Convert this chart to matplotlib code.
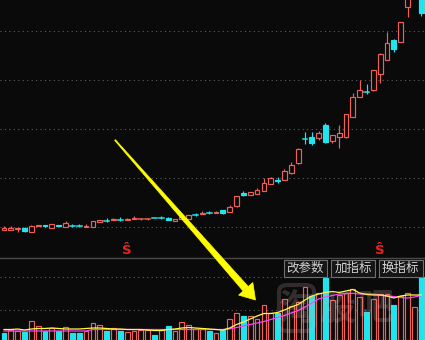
import matplotlib
matplotlib.use('Agg')
import matplotlib.pyplot as plt
from matplotlib.patches import Rectangle, Polygon, FancyBboxPatch
from matplotlib.lines import Line2D
import numpy as np

# ---------------- data ----------------
opens = [7.05, 7.05, 7.10, 7.20, 6.80, 7.37, 7.50, 7.20, 7.53, 7.30,
         7.50, 7.50, 7.35, 7.30, 7.85, 8.00, 8.00, 8.10, 8.00, 8.10,
         8.10, 8.10, 8.25, 8.30, 8.20, 7.95, 8.10, 8.10, 8.60, 8.60,
         8.80, 8.70, 9.00, 8.83, 9.40, 10.73, 10.50, 10.65, 10.93, 11.65,
         12.05, 12.00, 12.67, 13.70, 16.13, 16.33, 16.20, 17.50, 15.93, 16.33,
         16.33, 18.33, 20.27, 20.85, 21.00, 22.60, 24.00, 26.05, 25.83, 29.27,
         30.80, 31.00]
highs = [7.40, 7.40, 7.25, 7.30, 7.55, 7.47, 7.50, 7.60, 7.53, 7.90,
         7.65, 7.65, 7.65, 7.95, 8.05, 8.20, 8.25, 8.30, 8.20, 8.40,
         8.25, 8.25, 8.25, 8.45, 8.35, 8.10, 8.40, 8.55, 8.75, 8.90,
         8.95, 8.95, 9.05, 9.50, 10.43, 10.90, 10.85, 11.20, 12.20, 12.30,
         12.30, 13.10, 13.83, 15.20, 16.80, 16.80, 16.90, 17.70, 16.50, 17.50,
         18.60, 20.70, 22.00, 21.60, 23.00, 24.70, 26.83, 26.10, 27.83, 30.80,
         32.80, 31.50]
lows = [7.05, 7.05, 6.80, 6.85, 6.80, 7.37, 7.30, 7.20, 7.40, 7.30,
        7.30, 7.30, 7.35, 7.30, 7.85, 7.80, 8.00, 7.90, 8.00, 8.10,
        8.05, 8.05, 8.20, 8.10, 8.00, 7.95, 8.10, 8.10, 8.45, 8.60,
        8.65, 8.70, 8.65, 8.83, 9.35, 10.40, 10.50, 10.65, 10.90, 11.60,
        11.70, 12.00, 12.65, 13.65, 15.60, 15.50, 16.00, 15.75, 15.70, 15.20,
        16.25, 18.30, 20.27, 20.60, 20.95, 21.70, 24.00, 24.80, 25.80, 28.33,
        30.60, 28.40]
closes = [7.20, 7.20, 7.20, 6.90, 7.40, 7.47, 7.40, 7.60, 7.40, 7.70,
          7.45, 7.45, 7.45, 7.90, 8.00, 7.95, 8.10, 8.05, 8.15, 8.25,
          8.15, 8.15, 8.20, 8.25, 8.00, 8.10, 8.35, 8.55, 8.55, 8.75,
          8.75, 8.85, 8.70, 9.27, 10.43, 10.50, 10.80, 11.05, 11.70, 12.17,
          11.95, 12.90, 13.50, 15.10, 16.07, 15.67, 16.70, 15.83, 16.50, 16.67,
          18.57, 20.33, 21.00, 20.80, 23.00, 24.60, 25.70, 25.07, 27.83, 30.50,
          32.50, 28.67]
volumes = [6.7, 10.0, 9.3, 7.7, 19.0, 14.0, 9.3, 11.7, 9.3, 13.3,
           7.3, 7.3, 9.3, 17.3, 15.0, 9.3, 12.3, 9.3, 7.7, 9.0,
           10.0, 10.0, 5.0, 10.0, 14.0, 9.3, 17.7, 15.0, 10.7, 10.7,
           9.0, 7.0, 10.5, 21.0, 26.7, 24.3, 24.5, 21.0, 35.0, 27.3,
           27.5, 40.8, 34.0, 38.0, 52.7, 44.0, 46.7, 62.3, 40.0, 45.0,
           46.7, 50.7, 42.7, 28.3, 40.7, 46.0, 46.0, 35.0, 44.0, 47.3,
           33.3, 63.3]
vol_down_idx = [0, 3, 6, 8, 10, 11, 15, 17, 22, 24, 30, 32, 35, 40, 45, 47, 53, 57, 61]
vol_ma5 = [10.5, 10.5, 11, 10, 11, 11.5, 11.5, 12, 11.5, 11,
           11, 11, 11.5, 12, 12, 11.5, 11, 11, 10.5, 10.5,
           10.5, 10, 9.5, 9.5, 10.5, 11, 12, 12.5, 12, 11.5,
           11, 10.5, 10, 12, 15.5, 18, 21, 24, 26.5, 26.5,
           27.5, 30, 33, 35.5, 40, 44, 46, 47.5, 48.5, 47.5,
           49, 50.5, 47, 45.5, 45, 45, 44, 42, 44, 45, 45, 45]
vol_ma10 = [9, 9, 9, 9, 9, 9, 9, 9, 9, 9,
            9, 9, 9, 10.5, 10.5, 10.5, 10.5, 10.5, 10.5, 10.5,
            10.5, 10.5, 10.5, 10.5, 10.5, 10.5, 10.5, 10.5, 10.5, 10.5,
            10.5, 10.5, 10.5, 11, 12.5, 14, 15.5, 17, 18.5, 20.5,
            22.5, 24.5, 27, 29.5, 33, 37, 41, 43, 44.5, 46,
            46.5, 46.7, 46, 46, 46, 45, 44, 43.5, 42.5, 42, 43, 44.5]
signal_idx = [18, 55]
signal_label = 'Ŝ'
price_grid = [7.3, 12.2, 17.1, 22.0, 26.9]
vol_grid = [30, 63]
buttons = ['改参数', '加指标', '换指标']
watermark = ['淘', '股', '吧']

# ---------------- style ----------------
BG = '#0a0a0a'
RED = '#f0605a'
CYAN = '#1fe6ee'
GRID = '#5e5e5e'
W_PX, H_PX = 425, 340
SPLIT = 258  # pixel row of the panel separator

fig = plt.figure(figsize=(W_PX / 100, H_PX / 100), dpi=100, facecolor=BG)
ax = fig.add_axes([0, (H_PX - SPLIT) / H_PX, 1, SPLIT / H_PX])
axv = fig.add_axes([0, 0, 1, (H_PX - SPLIT) / H_PX])
n = len(opens)
xlim = (-4 / 6.84, (W_PX - 4) / 6.84)
for a in (ax, axv):
    a.set_facecolor(BG)
    for s in a.spines.values():
        s.set_visible(False)
    a.set_xticks([])
    a.set_yticks([])
    a.set_xlim(xlim)
ax.set_ylim(4.2, 30.0)
axv.set_ylim(0, 82)

for g in price_grid:
    ax.axhline(g, color=GRID, lw=0.8, ls=(0, (1, 3)), zorder=0)
for g in vol_grid:
    axv.axhline(g, color=GRID, lw=0.8, ls=(0, (1, 3)), zorder=0)

# candles
W = 0.7
LW = 0.85
for i in range(n):
    o, h, l, c = opens[i], highs[i], lows[i], closes[i]
    up = c >= o
    col = RED if up else CYAN
    top, bot = max(o, c), min(o, c)
    if up:
        ax.plot([i, i], [top, h], color=col, lw=LW, solid_capstyle='butt')
        ax.plot([i, i], [l, bot], color=col, lw=LW, solid_capstyle='butt')
        if top - bot < 0.08:
            ax.plot([i - W / 2, i + W / 2], [c, c], color=col, lw=LW * 1.3)
        else:
            ax.add_patch(Rectangle((i - W / 2, bot), W, top - bot,
                                   facecolor=BG, edgecolor=col, lw=LW))
    else:
        ax.plot([i, i], [l, h], color=col, lw=LW, solid_capstyle='butt')
        if top - bot < 0.08:
            ax.plot([i - W / 2, i + W / 2], [c, c], color=col, lw=LW * 1.3)
        else:
            ax.add_patch(Rectangle((i - W / 2, bot), W, top - bot,
                                   facecolor=col, edgecolor=col, lw=LW))

for i in signal_idx:
    ax.text(i, 4.95, signal_label, color='#e8231e', fontsize=9.5, fontweight='bold',
            ha='center', va='center', family='DejaVu Sans')

# volume bars
for i in range(n):
    if i in vol_down_idx:
        axv.bar(i, volumes[i], width=W, color=CYAN, edgecolor=CYAN, lw=LW)
    else:
        axv.bar(i, volumes[i], width=W, facecolor=BG, edgecolor=RED, lw=LW)
axv.plot(range(n), vol_ma10, color='#ff3cff', lw=0.9)
axv.plot(range(n), vol_ma5, color='#ffff3c', lw=0.9)


def px(x, y):
    return (x / W_PX, 1 - y / H_PX)


# separator
fig.add_artist(Line2D([0, 1], [1 - SPLIT / H_PX] * 2, color='#4a4a4a', lw=1.0))

# buttons
btn_x = [(283.5, 327.0), (331.0, 375.0), (379.0, 422.5)]
for label, (x0, x1) in zip(buttons, btn_x):
    fig.add_artist(Rectangle(px(x0, 276.5), (x1 - x0) / W_PX, 16.5 / H_PX,
                             transform=fig.transFigure, facecolor='#151515',
                             edgecolor='#707070', lw=0.8, zorder=5))
    fig.text((x0 + x1) / 2 / W_PX, 1 - 268.3 / H_PX, label, color='#d2d2d2',
             fontsize=9, ha='center', va='center', family=['Noto Sans CJK SC', 'DejaVu Sans'],
             zorder=6)

# watermark
wm_col = '#d0b0b0'
fig.add_artist(FancyBboxPatch(px(279, 331), 35 / W_PX, 46 / H_PX,
                              boxstyle='round,pad=0.0,rounding_size=0.02',
                              transform=fig.transFigure, facecolor='none',
                              edgecolor=wm_col, lw=3, alpha=0.2, zorder=7))
for k, (ch, cx) in enumerate(zip(watermark, [296.5, 337.0, 376.0])):
    fig.text(cx / W_PX, 1 - 309 / H_PX, ch, color=wm_col, alpha=0.22, fontsize=26,
             fontweight='bold', ha='center', va='center',
             family=['Noto Sans CJK SC', 'DejaVu Sans'], zorder=7)

# yellow arrow (annotation)
S = np.array([115.0, 140.0])
B = np.array([245.7, 288.8])
T = np.array([255.5, 300.0])
d = (B - S) / np.linalg.norm(B - S)
p = np.array([-d[1], d[0]])
shaft = [S + 0.5 * p, B + 3.4 * p, B - 3.4 * p, S - 0.5 * p]
head = [B + 9.5 * p, T, B - 9.5 * p]
for poly in (shaft, head):
    fig.add_artist(Polygon([px(*q) for q in poly], closed=True, transform=fig.transFigure,
                           facecolor='#ffff00', edgecolor='#ffff00', lw=0.5, zorder=8))

fig.savefig('out.png', dpi=100, facecolor=BG)
